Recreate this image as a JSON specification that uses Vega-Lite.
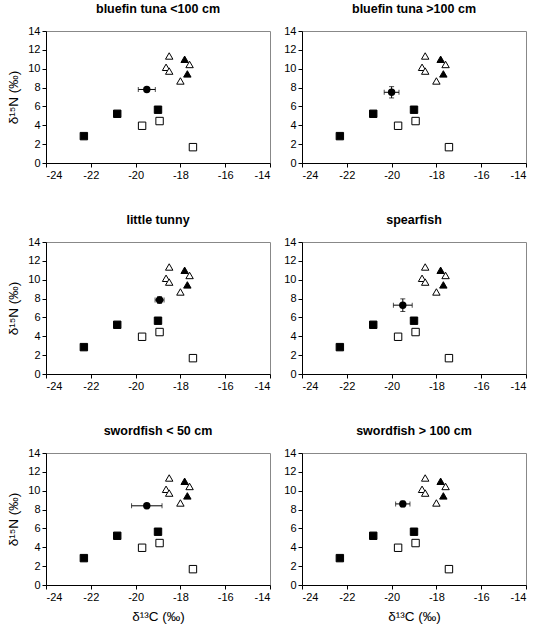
{
  "$schema": "https://vega.github.io/schema/vega-lite/v6.json",
  "padding": {"left": 6, "top": 2, "right": 5, "bottom": 5},
  "background": "white",
  "datasets": {
    "ref": [
      {"c": -22.31, "n": 2.85, "taxon": "square", "style": "filled"},
      {"c": -20.82, "n": 5.22, "taxon": "square", "style": "filled"},
      {"c": -19.0, "n": 5.65, "taxon": "square", "style": "filled"},
      {"c": -19.71, "n": 3.95, "taxon": "square", "style": "open"},
      {"c": -18.93, "n": 4.45, "taxon": "square", "style": "open"},
      {"c": -17.44, "n": 1.68, "taxon": "square", "style": "open"},
      {"c": -18.5, "n": 11.35, "taxon": "triangle", "style": "open"},
      {"c": -18.64, "n": 10.15, "taxon": "triangle", "style": "open"},
      {"c": -18.5, "n": 9.75, "taxon": "triangle", "style": "open"},
      {"c": -18.0, "n": 8.7, "taxon": "triangle", "style": "open"},
      {"c": -17.59, "n": 10.45, "taxon": "triangle", "style": "open"},
      {"c": -17.81, "n": 11.0, "taxon": "triangle", "style": "filled"},
      {"c": -17.69, "n": 9.45, "taxon": "triangle", "style": "filled"}
    ],
    "means": [
      {"panel": "bluefin tuna <100 cm", "c": -19.5, "n": 7.8, "ce": 0.38, "ne": 0.2},
      {"panel": "bluefin tuna >100 cm", "c": -20.0, "n": 7.5, "ce": 0.33, "ne": 0.6},
      {"panel": "little tunny", "c": -18.93, "n": 7.85, "ce": 0.2, "ne": 0.35},
      {"panel": "spearfish", "c": -19.5, "n": 7.3, "ce": 0.42, "ne": 0.67},
      {"panel": "swordfish < 50 cm", "c": -19.5, "n": 8.4, "ce": 0.68, "ne": 0.15},
      {"panel": "swordfish > 100 cm", "c": -19.5, "n": 8.6, "ce": 0.32, "ne": 0.3}
    ]
  },
  "config": {
    "view": {"stroke": "#888888", "strokeWidth": 1},
    "axis": {
      "grid": false,
      "domainColor": "black",
      "tickColor": "black",
      "tickSize": 4,
      "labelFont": "Liberation Sans",
      "labelFontSize": 11,
      "labelColor": "black",
      "labelExpr": "replace(datum.label, '−', '-')",
      "titleFont": "Liberation Sans",
      "titleFontSize": 13.5,
      "titleFontWeight": "normal",
      "titleColor": "black",
      "titlePadding": 7
    },
    "title": {"font": "Liberation Sans", "fontSize": 12.5, "fontWeight": "bold", "color": "black", "offset": 10}
  },
  "columns": 2,
  "bounds": "flush",
  "spacing": {"row": 79, "column": 32},
  "concat": [
    {
      "title": "bluefin tuna <100 cm",
      "width": 224, "height": 132,
      "encoding": {
        "x": {"field": "c", "type": "quantitative", "title": null, "scale": {"domain": [-24, -14], "nice": false}, "axis": {"values": [-24, -22, -20, -18, -16, -14], "title": null}},
        "y": {"field": "n", "type": "quantitative", "title": "δ¹⁵N (‰)", "scale": {"domain": [0, 14], "nice": false}, "axis": {"values": [0, 2, 4, 6, 8, 10, 12, 14], "title": "δ¹⁵N (‰)"}}
      },
      "layer": [
        {"data": {"name": "ref"}, "mark": {"type": "point", "filled": true, "stroke": "black", "strokeWidth": 1, "opacity": 1, "size": 55},
         "encoding": {
           "shape": {"field": "taxon", "type": "nominal", "scale": {"domain": ["square", "triangle"], "range": ["square", "triangle-up"]}, "legend": null},
           "fill": {"field": "style", "type": "nominal", "scale": {"domain": ["filled", "open"], "range": ["black", "white"]}, "legend": null}
         }},
        {"data": {"name": "means"}, "transform": [{"filter": "datum.panel === 'bluefin tuna <100 cm'"}], "mark": {"type": "errorbar", "ticks": true, "color": "black"},
         "encoding": {"xError": {"field": "ce"}}},
        {"data": {"name": "means"}, "transform": [{"filter": "datum.panel === 'bluefin tuna <100 cm'"}], "mark": {"type": "errorbar", "ticks": true, "color": "black"},
         "encoding": {"yError": {"field": "ne"}}},
        {"data": {"name": "means"}, "transform": [{"filter": "datum.panel === 'bluefin tuna <100 cm'"}], "mark": {"type": "point", "shape": "circle", "filled": true, "color": "black", "opacity": 1, "size": 55}}
      ]
    },
    {
      "title": "bluefin tuna >100 cm",
      "width": 224, "height": 132,
      "encoding": {
        "x": {"field": "c", "type": "quantitative", "title": null, "scale": {"domain": [-24, -14], "nice": false}, "axis": {"values": [-24, -22, -20, -18, -16, -14], "title": null}},
        "y": {"field": "n", "type": "quantitative", "title": null, "scale": {"domain": [0, 14], "nice": false}, "axis": {"values": [0, 2, 4, 6, 8, 10, 12, 14], "title": null}}
      },
      "layer": [
        {"data": {"name": "ref"}, "mark": {"type": "point", "filled": true, "stroke": "black", "strokeWidth": 1, "opacity": 1, "size": 55},
         "encoding": {
           "shape": {"field": "taxon", "type": "nominal", "scale": {"domain": ["square", "triangle"], "range": ["square", "triangle-up"]}, "legend": null},
           "fill": {"field": "style", "type": "nominal", "scale": {"domain": ["filled", "open"], "range": ["black", "white"]}, "legend": null}
         }},
        {"data": {"name": "means"}, "transform": [{"filter": "datum.panel === 'bluefin tuna >100 cm'"}], "mark": {"type": "errorbar", "ticks": true, "color": "black"},
         "encoding": {"xError": {"field": "ce"}}},
        {"data": {"name": "means"}, "transform": [{"filter": "datum.panel === 'bluefin tuna >100 cm'"}], "mark": {"type": "errorbar", "ticks": true, "color": "black"},
         "encoding": {"yError": {"field": "ne"}}},
        {"data": {"name": "means"}, "transform": [{"filter": "datum.panel === 'bluefin tuna >100 cm'"}], "mark": {"type": "point", "shape": "circle", "filled": true, "color": "black", "opacity": 1, "size": 55}}
      ]
    },
    {
      "title": "little tunny",
      "width": 224, "height": 132,
      "encoding": {
        "x": {"field": "c", "type": "quantitative", "title": null, "scale": {"domain": [-24, -14], "nice": false}, "axis": {"values": [-24, -22, -20, -18, -16, -14], "title": null}},
        "y": {"field": "n", "type": "quantitative", "title": "δ¹⁵N (‰)", "scale": {"domain": [0, 14], "nice": false}, "axis": {"values": [0, 2, 4, 6, 8, 10, 12, 14], "title": "δ¹⁵N (‰)"}}
      },
      "layer": [
        {"data": {"name": "ref"}, "mark": {"type": "point", "filled": true, "stroke": "black", "strokeWidth": 1, "opacity": 1, "size": 55},
         "encoding": {
           "shape": {"field": "taxon", "type": "nominal", "scale": {"domain": ["square", "triangle"], "range": ["square", "triangle-up"]}, "legend": null},
           "fill": {"field": "style", "type": "nominal", "scale": {"domain": ["filled", "open"], "range": ["black", "white"]}, "legend": null}
         }},
        {"data": {"name": "means"}, "transform": [{"filter": "datum.panel === 'little tunny'"}], "mark": {"type": "errorbar", "ticks": true, "color": "black"},
         "encoding": {"xError": {"field": "ce"}}},
        {"data": {"name": "means"}, "transform": [{"filter": "datum.panel === 'little tunny'"}], "mark": {"type": "errorbar", "ticks": true, "color": "black"},
         "encoding": {"yError": {"field": "ne"}}},
        {"data": {"name": "means"}, "transform": [{"filter": "datum.panel === 'little tunny'"}], "mark": {"type": "point", "shape": "circle", "filled": true, "color": "black", "opacity": 1, "size": 55}}
      ]
    },
    {
      "title": "spearfish",
      "width": 224, "height": 132,
      "encoding": {
        "x": {"field": "c", "type": "quantitative", "title": null, "scale": {"domain": [-24, -14], "nice": false}, "axis": {"values": [-24, -22, -20, -18, -16, -14], "title": null}},
        "y": {"field": "n", "type": "quantitative", "title": null, "scale": {"domain": [0, 14], "nice": false}, "axis": {"values": [0, 2, 4, 6, 8, 10, 12, 14], "title": null}}
      },
      "layer": [
        {"data": {"name": "ref"}, "mark": {"type": "point", "filled": true, "stroke": "black", "strokeWidth": 1, "opacity": 1, "size": 55},
         "encoding": {
           "shape": {"field": "taxon", "type": "nominal", "scale": {"domain": ["square", "triangle"], "range": ["square", "triangle-up"]}, "legend": null},
           "fill": {"field": "style", "type": "nominal", "scale": {"domain": ["filled", "open"], "range": ["black", "white"]}, "legend": null}
         }},
        {"data": {"name": "means"}, "transform": [{"filter": "datum.panel === 'spearfish'"}], "mark": {"type": "errorbar", "ticks": true, "color": "black"},
         "encoding": {"xError": {"field": "ce"}}},
        {"data": {"name": "means"}, "transform": [{"filter": "datum.panel === 'spearfish'"}], "mark": {"type": "errorbar", "ticks": true, "color": "black"},
         "encoding": {"yError": {"field": "ne"}}},
        {"data": {"name": "means"}, "transform": [{"filter": "datum.panel === 'spearfish'"}], "mark": {"type": "point", "shape": "circle", "filled": true, "color": "black", "opacity": 1, "size": 55}}
      ]
    },
    {
      "title": "swordfish < 50 cm",
      "width": 224, "height": 132,
      "encoding": {
        "x": {"field": "c", "type": "quantitative", "title": "δ¹³C (‰)", "scale": {"domain": [-24, -14], "nice": false}, "axis": {"values": [-24, -22, -20, -18, -16, -14], "title": "δ¹³C (‰)"}},
        "y": {"field": "n", "type": "quantitative", "title": "δ¹⁵N (‰)", "scale": {"domain": [0, 14], "nice": false}, "axis": {"values": [0, 2, 4, 6, 8, 10, 12, 14], "title": "δ¹⁵N (‰)"}}
      },
      "layer": [
        {"data": {"name": "ref"}, "mark": {"type": "point", "filled": true, "stroke": "black", "strokeWidth": 1, "opacity": 1, "size": 55},
         "encoding": {
           "shape": {"field": "taxon", "type": "nominal", "scale": {"domain": ["square", "triangle"], "range": ["square", "triangle-up"]}, "legend": null},
           "fill": {"field": "style", "type": "nominal", "scale": {"domain": ["filled", "open"], "range": ["black", "white"]}, "legend": null}
         }},
        {"data": {"name": "means"}, "transform": [{"filter": "datum.panel === 'swordfish < 50 cm'"}], "mark": {"type": "errorbar", "ticks": true, "color": "black"},
         "encoding": {"xError": {"field": "ce"}}},
        {"data": {"name": "means"}, "transform": [{"filter": "datum.panel === 'swordfish < 50 cm'"}], "mark": {"type": "errorbar", "ticks": true, "color": "black"},
         "encoding": {"yError": {"field": "ne"}}},
        {"data": {"name": "means"}, "transform": [{"filter": "datum.panel === 'swordfish < 50 cm'"}], "mark": {"type": "point", "shape": "circle", "filled": true, "color": "black", "opacity": 1, "size": 55}}
      ]
    },
    {
      "title": "swordfish > 100 cm",
      "width": 224, "height": 132,
      "encoding": {
        "x": {"field": "c", "type": "quantitative", "title": "δ¹³C (‰)", "scale": {"domain": [-24, -14], "nice": false}, "axis": {"values": [-24, -22, -20, -18, -16, -14], "title": "δ¹³C (‰)"}},
        "y": {"field": "n", "type": "quantitative", "title": null, "scale": {"domain": [0, 14], "nice": false}, "axis": {"values": [0, 2, 4, 6, 8, 10, 12, 14], "title": null}}
      },
      "layer": [
        {"data": {"name": "ref"}, "mark": {"type": "point", "filled": true, "stroke": "black", "strokeWidth": 1, "opacity": 1, "size": 55},
         "encoding": {
           "shape": {"field": "taxon", "type": "nominal", "scale": {"domain": ["square", "triangle"], "range": ["square", "triangle-up"]}, "legend": null},
           "fill": {"field": "style", "type": "nominal", "scale": {"domain": ["filled", "open"], "range": ["black", "white"]}, "legend": null}
         }},
        {"data": {"name": "means"}, "transform": [{"filter": "datum.panel === 'swordfish > 100 cm'"}], "mark": {"type": "errorbar", "ticks": true, "color": "black"},
         "encoding": {"xError": {"field": "ce"}}},
        {"data": {"name": "means"}, "transform": [{"filter": "datum.panel === 'swordfish > 100 cm'"}], "mark": {"type": "errorbar", "ticks": true, "color": "black"},
         "encoding": {"yError": {"field": "ne"}}},
        {"data": {"name": "means"}, "transform": [{"filter": "datum.panel === 'swordfish > 100 cm'"}], "mark": {"type": "point", "shape": "circle", "filled": true, "color": "black", "opacity": 1, "size": 55}}
      ]
    }
  ]
}
